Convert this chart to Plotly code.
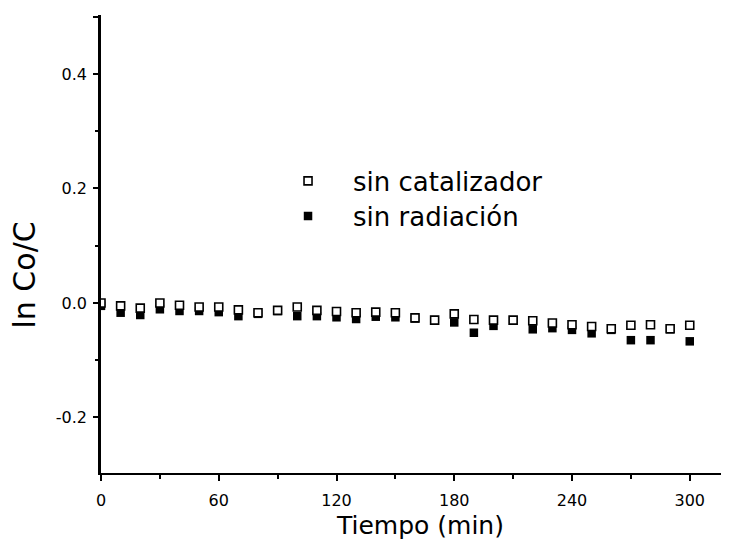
import plotly.graph_objects as go

tiempo = [0, 10, 20, 30, 40, 50, 60, 70, 80, 90, 100, 110, 120, 130, 140, 150,
          160, 170, 180, 190, 200, 210, 220, 230, 240, 250, 260, 270, 280, 290, 300]
sin_catalizador = [0.0, -0.005, -0.009, 0.0, -0.004, -0.007, -0.007, -0.012, -0.017, -0.013,
                   -0.007, -0.013, -0.015, -0.017, -0.016, -0.017, -0.026, -0.030, -0.019,
                   -0.029, -0.030, -0.030, -0.031, -0.035, -0.038, -0.041, -0.045, -0.039,
                   -0.038, -0.045, -0.039]
sin_radiacion = [-0.005, -0.017, -0.021, -0.011, -0.014, -0.014, -0.016, -0.023, -0.019, -0.014,
                 -0.023, -0.023, -0.025, -0.028, -0.024, -0.025, -0.027, -0.030, -0.034,
                 -0.052, -0.040, -0.031, -0.046, -0.044, -0.047, -0.053, -0.047, -0.065,
                 -0.065, -0.046, -0.067]
x_ticks = [0, 60, 120, 180, 240, 300]
y_ticks = [-0.2, 0.0, 0.2, 0.4, 0.5]
y_ticktext = ["-0.2", "0.0", "0.2", "0.4", ""]

FONT = "DejaVu Sans"

fig = go.Figure()
fig.add_trace(go.Scatter(
    x=tiempo, y=sin_radiacion, mode="markers", name="sin radiación",
    marker=dict(symbol="square", size=8.5, color="black", line=dict(width=0)),
    legend="legend2",
))
fig.add_trace(go.Scatter(
    x=tiempo, y=sin_catalizador, mode="markers", name="sin catalizador",
    marker=dict(symbol="square", size=8, color="white", line=dict(width=1.6, color="black")),
    legend="legend",
))

fig.update_layout(
    width=721, height=531,
    margin=dict(l=93, r=0, t=7, b=66),
    paper_bgcolor="white", plot_bgcolor="white",
    font=dict(family=FONT, color="black"),
    showlegend=True,
    legend=dict(x=0.258, y=0.6376, xref="paper", yref="paper", xanchor="left", yanchor="middle",
                font=dict(size=26, family=FONT), bgcolor="rgba(0,0,0,0)",
                itemwidth=80),
    legend2=dict(x=0.258, y=0.561, xref="paper", yref="paper", xanchor="left", yanchor="middle",
                 font=dict(size=26, family=FONT), bgcolor="rgba(0,0,0,0)",
                 itemwidth=80),
    xaxis=dict(
        range=[0, 320], showgrid=False, zeroline=False,
        showline=True, linecolor="black", linewidth=2,
        tickmode="array", tickvals=x_ticks, ticktext=[str(v) for v in x_ticks],
        ticks="outside", ticklen=6, tickwidth=1.5, tickcolor="black",
        tickfont=dict(size=16, family=FONT), ticklabelstandoff=6,
        minor=dict(tickmode="linear", tick0=0, dtick=30, ticks="outside", ticklen=4,
                   tickwidth=1.5, tickcolor="black"),
    ),
    yaxis=dict(
        range=[-0.297, 0.503], showgrid=False, zeroline=False,
        showline=True, linecolor="black", linewidth=2.5,
        tickmode="array", tickvals=y_ticks, ticktext=y_ticktext,
        ticks="outside", ticklen=5, tickwidth=1.5, tickcolor="black",
        tickfont=dict(size=16, family=FONT), ticklabelstandoff=3,
        minor=dict(tickmode="linear", tick0=0, dtick=0.1, ticks="outside", ticklen=3,
                   tickwidth=1.5, tickcolor="black"),
    ),
    annotations=[
        dict(text="Tiempo (min)", xref="paper", yref="paper", x=0.508, y=-0.115,
             xanchor="center", yanchor="middle", showarrow=False,
             font=dict(size=25, family=FONT, color="black")),
        dict(text="ln Co/C", xref="paper", yref="paper", x=-0.122, y=0.432,
             xanchor="center", yanchor="middle", showarrow=False, textangle=-90,
             font=dict(size=30, family=FONT, color="black")),
    ],
)

fig.write_html("out.html")
